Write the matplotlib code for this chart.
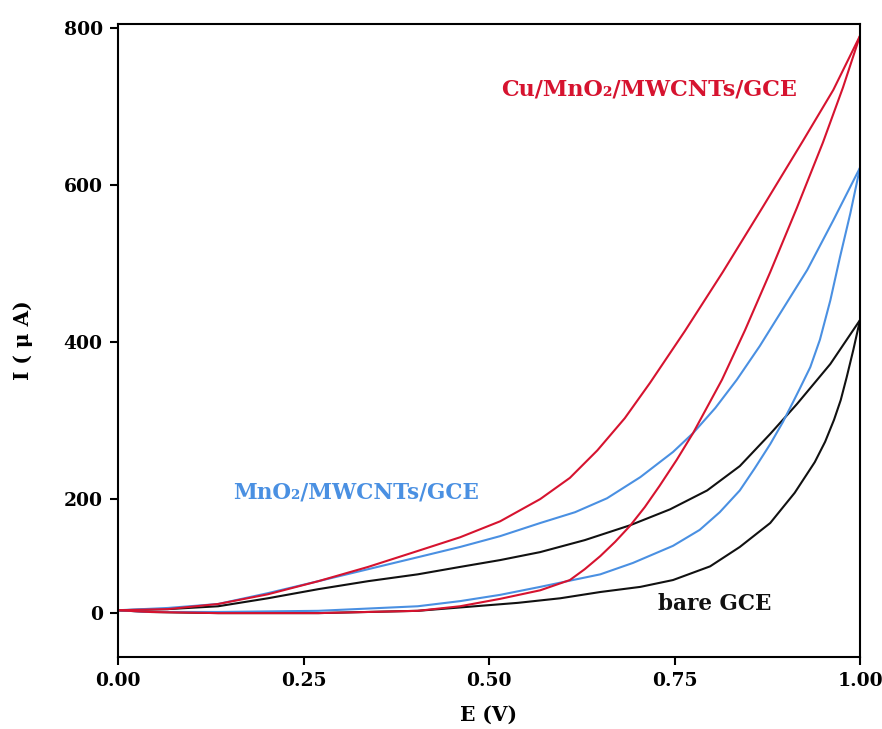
import numpy as np
import matplotlib
matplotlib.use("Agg")
import matplotlib.pyplot as plt

plt.rcParams['font.family'] = ['DejaVu Serif', 'DejaVu Sans']

# ---- data (E in V, I in µA) ----
red_up_E = [0.0, 0.067, 0.135, 0.202, 0.270, 0.337, 0.404, 0.461, 0.515, 0.569, 0.609,
            0.646, 0.683, 0.717, 0.764, 0.815, 0.869, 0.923, 0.964, 1.0]
red_up_I = [5, 7, 16, 33, 56, 81, 109, 133, 161, 200, 227,
            262, 303, 348, 414, 489, 572, 656, 721, 790]
red_dn_E = [0.0, 0.043, 0.135, 0.270, 0.404, 0.461, 0.515, 0.569, 0.609, 0.629, 0.650,
            0.670, 0.690, 0.710, 0.730, 0.753, 0.775, 0.814, 0.845, 0.879, 0.915, 0.950,
            0.977, 1.0]
red_dn_I = [5, 2, 0, 0, 4, 12, 25, 40, 58, 77, 100,
            125, 153, 186, 217, 250, 284, 352, 415, 489, 571, 654,
            724, 790]

blue_up_E = [0.0, 0.067, 0.135, 0.202, 0.270, 0.337, 0.404, 0.461, 0.515, 0.569, 0.616,
             0.659, 0.704, 0.748, 0.775, 0.805, 0.834, 0.865, 0.896, 0.929, 0.964, 1.0]
blue_up_I = [5, 9, 16, 35, 56, 77, 98, 116, 135, 158, 177,
             201, 228, 260, 284, 316, 352, 395, 442, 492, 555, 622]
blue_dn_E = [0.0, 0.043, 0.135, 0.270, 0.404, 0.461, 0.515, 0.569, 0.613, 0.650, 0.694,
             0.748, 0.784, 0.811, 0.838, 0.858, 0.879, 0.896, 0.910, 0.919, 0.933, 0.946,
             0.960, 0.973, 0.987, 1.0]
blue_dn_I = [5, 2, 2, 4, 12, 21, 32, 46, 58, 68, 88,
             118, 146, 177, 211, 239, 270, 298, 324, 341, 368, 403,
             453, 508, 564, 622]

black_up_E = [0.0, 0.067, 0.135, 0.202, 0.270, 0.337, 0.404, 0.461, 0.515, 0.569, 0.629,
              0.690, 0.744, 0.794, 0.838, 0.879, 0.915, 0.960, 1.0]
black_up_I = [5, 7, 12, 26, 42, 56, 68, 81, 93, 107, 128,
              154, 182, 211, 242, 283, 321, 372, 428]
black_dn_E = [0.0, 0.043, 0.135, 0.270, 0.404, 0.539, 0.596, 0.650, 0.704, 0.748, 0.798,
              0.838, 0.879, 0.912, 0.939, 0.953, 0.965, 0.974, 0.982, 0.991, 1.0]
black_dn_I = [5, 2, 0, 0, 4, 18, 26, 37, 46, 58, 82,
              116, 158, 208, 247, 273, 301, 326, 355, 390, 428]

x_ticks = [0.0, 0.25, 0.5, 0.75, 1.0]
y_ticks = [0, 200, 400, 600, 800]

labels = ["Cu/MnO\u2082/MWCNTs/GCE", "MnO\u2082/MWCNTs/GCE", "bare GCE"]

RED = '#d6132f'
BLUE = '#4a90e2'
BLACK = '#111111'

# piecewise-linear y scale (0-200 band is compressed in the original)
def fwd(v):
    v = np.asarray(v, dtype=float)
    return np.where(v < 200, v * 0.726, 145.2 + (v - 200))

def inv(u):
    u = np.asarray(u, dtype=float)
    return np.where(u < 145.2, u / 0.726, 200 + (u - 145.2))

fig = plt.figure(figsize=(8.82, 7.29), dpi=100)
ax = fig.add_axes([118 / 882, 72 / 729, 742 / 882, 633 / 729])
ax.set_yscale('function', functions=(fwd, inv))

lw = 1.5
ax.plot(black_up_E, black_up_I, color=BLACK, lw=lw)
ax.plot(black_dn_E, black_dn_I, color=BLACK, lw=lw)
ax.plot(blue_up_E, blue_up_I, color=BLUE, lw=lw)
ax.plot(blue_dn_E, blue_dn_I, color=BLUE, lw=lw)
ax.plot(red_up_E, red_up_I, color=RED, lw=lw)
ax.plot(red_dn_E, red_dn_I, color=RED, lw=lw)

ax.set_xlim(0, 1.0)
ax.set_ylim(-77, 805)
ax.set_xticks(x_ticks)
ax.set_xticklabels([f"{t:.2f}" for t in x_ticks], fontweight='bold')
ax.set_yticks(y_ticks)
ax.set_yticklabels([str(t) for t in y_ticks], fontweight='bold')
ax.tick_params(axis='both', which='both', direction='out', length=6, width=1.5,
               labelsize=13.5, top=False, right=False, pad=5)
for sp in ax.spines.values():
    sp.set_linewidth(1.5)

ax.set_xlabel("E (V)", fontsize=14.5, fontweight='bold')
ax.set_ylabel("I ( \u03bc A)", fontsize=14.5, fontweight='bold')
ax.xaxis.set_label_coords(0.5, -0.075)
ax.yaxis.set_label_coords(-0.115, 0.5)

ax.text(0.517, 721, labels[0], color=RED, fontsize=16, fontweight='bold', ha='left', va='center')
ax.text(0.155, 209, labels[1], color=BLUE, fontsize=15.5, fontweight='bold', ha='left', va='center')
ax.text(0.728, 16, labels[2], color=BLACK, fontsize=15.5, fontweight='bold', ha='left', va='center')

fig.savefig("out.png", dpi=100)
